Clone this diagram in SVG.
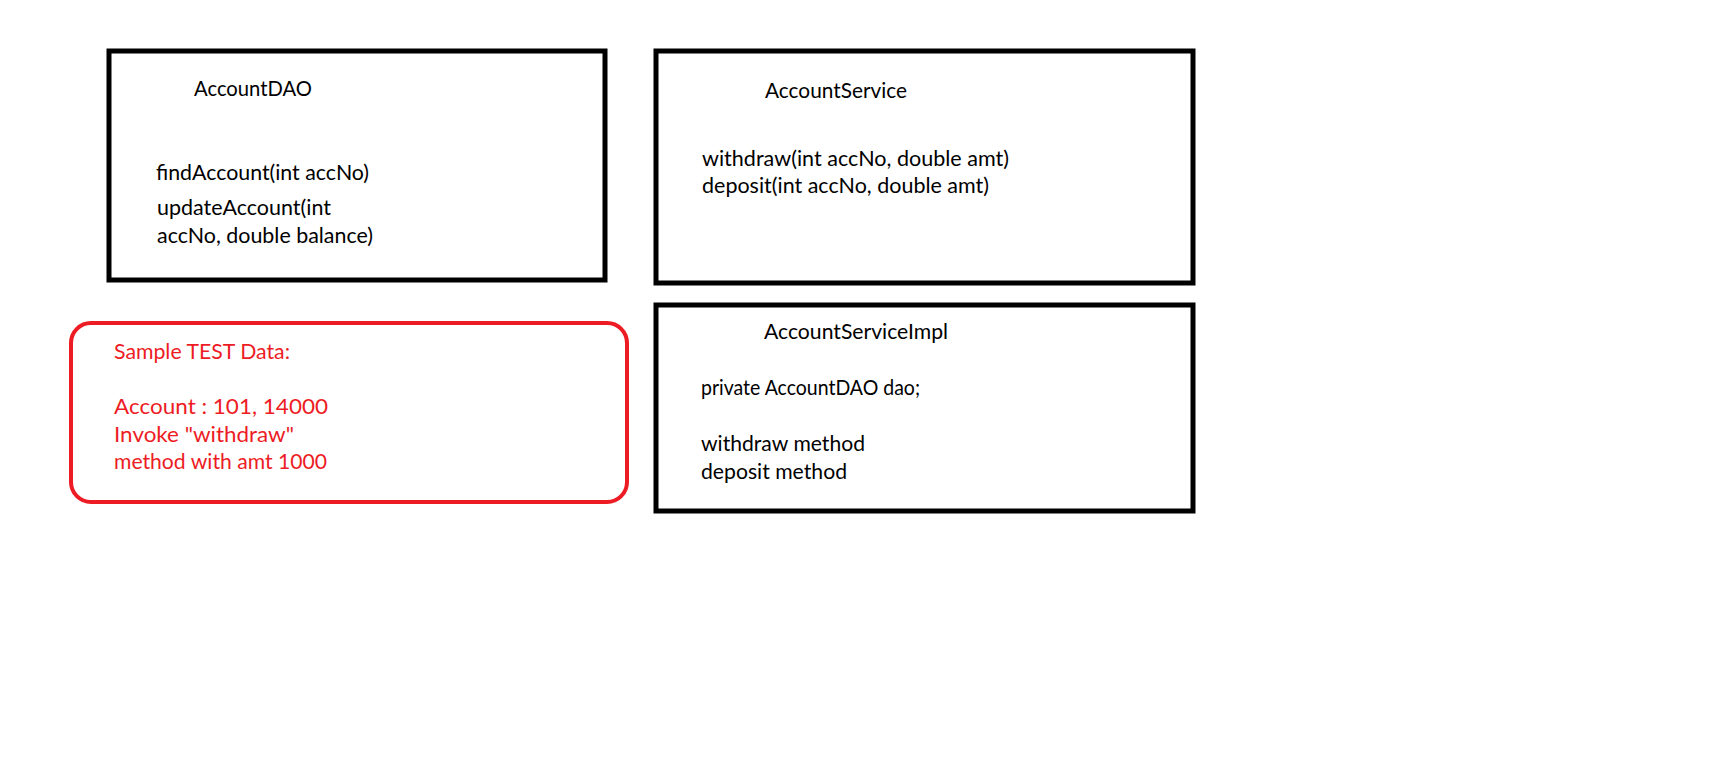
<svg xmlns="http://www.w3.org/2000/svg" width="1731" height="760" viewBox="0 0 1731 760">
<style>
.box{fill:#fff;stroke:#000;stroke-width:5}
.note{fill:#fff;stroke:#ED1C24;stroke-width:4}
text{font-family:Lato,"Liberation Sans",Arial,sans-serif;font-size:22px;fill:#000}
.red{fill:#ED1C24}
</style>
<rect width="1731" height="760" fill="#fff"/>
<g id="connectors"></g>
<g id="AccountDAO">
<rect class="box" x="109" y="51" width="496" height="229"/>
<text x="194" y="96" textLength="118" lengthAdjust="spacingAndGlyphs">AccountDAO</text>
<text x="156" y="180" textLength="213" lengthAdjust="spacingAndGlyphs">findAccount(int accNo)</text>
<text x="157" y="215" textLength="174" lengthAdjust="spacingAndGlyphs">updateAccount(int</text>
<text x="157" y="243" textLength="216" lengthAdjust="spacingAndGlyphs">accNo, double balance)</text>
</g>
<g id="AccountService">
<rect class="box" x="656" y="51" width="537" height="232"/>
<text x="765" y="98" textLength="142" lengthAdjust="spacingAndGlyphs">AccountService</text>
<text x="702" y="166" textLength="307" lengthAdjust="spacingAndGlyphs">withdraw(int accNo, double amt)</text>
<text x="702" y="193" textLength="287" lengthAdjust="spacingAndGlyphs">deposit(int accNo, double amt)</text>
</g>
<g id="AccountServiceImpl">
<rect class="box" x="656" y="305" width="537" height="206"/>
<text x="764" y="339" textLength="184" lengthAdjust="spacingAndGlyphs">AccountServiceImpl</text>
<text x="701" y="395" textLength="219" lengthAdjust="spacingAndGlyphs">private AccountDAO dao;</text>
<text x="701" y="451" textLength="164" lengthAdjust="spacingAndGlyphs">withdraw method</text>
<text x="701" y="479" textLength="146" lengthAdjust="spacingAndGlyphs">deposit method</text>
</g>
<g id="SampleTestData">
<rect class="note" x="71" y="323" width="556" height="179" rx="20" ry="20"/>
<text class="red" x="114" y="359" textLength="176" lengthAdjust="spacingAndGlyphs">Sample TEST Data:</text>
<text class="red" x="114" y="414" textLength="214" lengthAdjust="spacingAndGlyphs">Account : 101, 14000</text>
<text class="red" x="114" y="442" textLength="180" lengthAdjust="spacingAndGlyphs">Invoke "withdraw"</text>
<text class="red" x="114" y="469" textLength="213" lengthAdjust="spacingAndGlyphs">method with amt 1000</text>
</g>
</svg>
